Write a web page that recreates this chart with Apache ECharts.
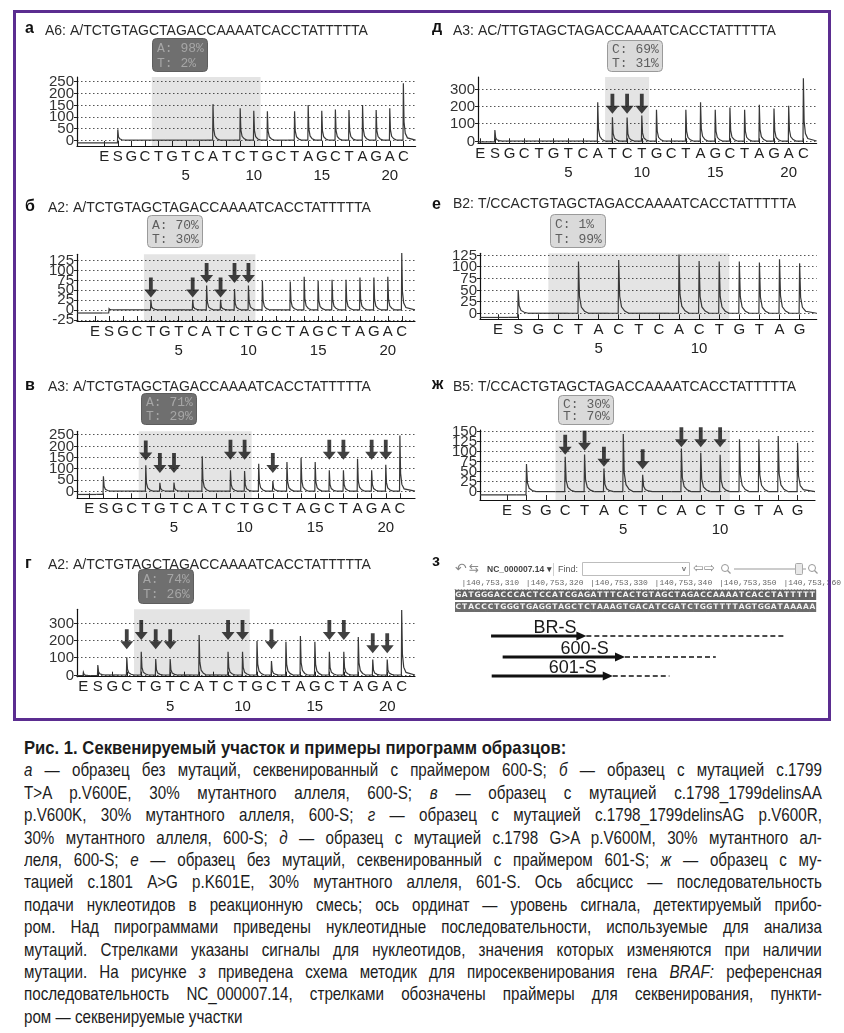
<!DOCTYPE html>
<html><head><meta charset="utf-8">
<script src="https://cdn.jsdelivr.net/npm/echarts@6/dist/echarts.min.js"></script>
<style>
html,body{margin:0;padding:0;background:#fff;}
#chart{position:absolute;left:0;top:0;width:844px;height:730px;}
#cap{position:absolute;left:24px;top:737px;width:798px;font-family:"Liberation Sans",Arial,sans-serif;font-size:18.5px;line-height:22.4px;color:#1c1c1c;}
#cap div{width:973px;transform:scaleX(0.82);transform-origin:0 0;text-align:justify;text-align-last:justify;white-space:nowrap;}
#cap div.l{text-align-last:left;}
#cap div.t{font-weight:bold;text-align-last:left;transform:scaleX(0.9);}
</style></head>
<body>
<div id="chart"></div>
<div id="cap">
<div class="t">Рис. 1. Секвенируемый участок и примеры пирограмм образцов:</div>
<div><i>а</i> — образец без мутаций, секвенированный с праймером 600-S; <i>б</i> — образец с мутацией с.1799</div>
<div>T&gt;A p.V600E, 30% мутантного аллеля, 600-S; <i>в</i> — образец с мутацией c.1798_1799delinsAA</div>
<div>p.V600K, 30% мутантного аллеля, 600-S; <i>г</i> — образец с мутацией c.1798_1799delinsAG p.V600R,</div>
<div>30% мутантного аллеля, 600-S; <i>д</i> — образец с мутацией с.1798 G&gt;A p.V600M, 30% мутантного ал-</div>
<div>леля, 600-S; <i>е</i> — образец без мутаций, секвенированный с праймером 601-S; <i>ж</i> — образец с му-</div>
<div>тацией с.1801 A&gt;G p.K601E, 30% мутантного аллеля, 601-S. Ось абсцисс — последовательность</div>
<div>подачи нуклеотидов в реакционную смесь; ось ординат — уровень сигнала, детектируемый прибо-</div>
<div>ром. Над пирограммами приведены нуклеотидные последовательности, используемые для анализа</div>
<div>мутаций. Стрелками указаны сигналы для нуклеотидов, значения которых изменяются при наличии</div>
<div>мутации. На рисунке <i>з</i> приведена схема методик для пиросеквенирования гена <i>BRAF:</i> референсная</div>
<div>последовательность NC_000007.14, стрелками обозначены праймеры для секвенирования, пункти-</div>
<div class="l">ром — секвенируемые участки</div>
</div>
<script>
// ---------------- DATA ----------------
const dispensation600 = ['E','S','G','C','T','G','T','C','A','T','C','T','G','C','T','A','G','C','T','A','G','A','C'];
const dispensation601 = ['E','S','G','C','T','A','C','T','C','A','C','T','G','T','A','G'];
const positionNumbers600 = [5, 10, 15, 20];
const positionNumbers601 = [5, 10];

// peak heights per dispensation (E, S, 1, 2, ...)
const peaksA = [0, 46, 0, 0, 0, 0, 0, 0, 154, 0, 136, 126, 124, 0, 124, 150, 126, 131, 129, 150, 129, 136, 243];
const peaksD = [0, 64, 0, 0, 0, 0, 0, 0, 224, 137, 135, 147, 180, 0, 180, 224, 180, 193, 180, 209, 188, 203, 362];
const peaksB = [0, 3, 0, 0, 25, 0, 0, 25, 61, 25, 52, 61, 73, 0, 71, 83, 72, 75, 75, 81, 81, 83, 142];
const peaksE = [0, 50, 0, 0, 111, 0, 114, 0, 0, 126, 112, 111, 111, 109, 116, 107];
const peaksV = [0, 66, 0, 0, 114, 37, 38, 0, 154, 0, 92, 89, 121, 45, 129, 148, 129, 92, 92, 143, 92, 117, 246];
const peaksZh = [0, 69, 0, 87, 93, 58, 144, 42, 0, 108, 97, 92, 131, 131, 139, 122];
const peaksG = [15, 58, 0, 103, 135, 93, 93, 0, 232, 0, 135, 135, 197, 81, 193, 226, 193, 135, 135, 220, 90, 90, 377];

// signal level before the first dispensation
const preSignal = { a: -12, d: -5, b: -8, e: -9, v: -15, zh: -8, g: -3 };

// highlighted (analysed) dispensation ranges
const shadeA = [2.5, 10.5], shadeD = [7.5, 10.5], shadeB = [2.5, 10.5], shadeE = [1.5, 10.5];
const shadeV = [2.5, 10.5], shadeZh = [1.5, 10.5], shadeG = [2.5, 10.5];

// arrows: dispensation and signal level of the arrow tip
const arrowPosD = [8, 9, 10], arrowTipD = [157, 157, 157];
const arrowPosB = [3, 6, 7, 8, 9, 10], arrowTipB = [31, 31, 67, 31, 67, 67];
const arrowPosV = [3, 4, 5, 9, 10, 12, 16, 17, 19, 20], arrowTipV = [136, 80, 80, 139, 139, 80, 139, 139, 139, 139];
const arrowPosZh = [2, 3, 4, 6, 8, 9, 10], arrowTipZh = [92, 102, 62, 56, 111, 111, 111];
const arrowPosG = [2, 3, 4, 5, 9, 10, 12, 16, 17, 19, 20], arrowTipG = [149, 203, 149, 149, 203, 203, 149, 203, 203, 126, 126];

// y tick values
const yTicksA = [0, 50, 100, 150, 200, 250];
const yTicksD = [0, 100, 200, 300];
const yTicksB = [-25, 0, 25, 50, 75, 100, 125];
const yTicksE = [0, 25, 50, 75, 100, 125];
const yTicksV = [0, 50, 100, 150, 200, 250];
const yTicksZh = [0, 25, 50, 75, 100, 125, 150];
const yTicksG = [0, 100, 200, 300];

// sequences and allele frequencies
const titleA = 'A6: A/TCTGTAGCTAGACCAAAATCACCTATTTTTA';
const titleD = 'A3: AC/TTGTAGCTAGACCAAAATCACCTATTTTTA';
const titleB = 'A2: A/TCTGTAGCTAGACCAAAATCACCTATTTTTA';
const titleE = 'B2: T/CCACTGTAGCTAGACCAAAATCACCTATTTTTA';
const titleV = 'A3: A/TCTGTAGCTAGACCAAAATCACCTATTTTTA';
const titleZh = 'B5: T/CCACTGTAGCTAGACCAAAATCACCTATTTTTA';
const titleG = 'A2: A/TCTGTAGCTAGACCAAAATCACCTATTTTTA';
const alleleA = ['A: 98%', 'T: 2%'];
const alleleD = ['C: 69%', 'T: 31%'];
const alleleB = ['A: 70%', 'T: 30%'];
const alleleE = ['C: 1%', 'T: 99%'];
const alleleV = ['A: 71%', 'T: 29%'];
const alleleZh = ['C: 30%', 'T: 70%'];
const alleleG = ['A: 74%', 'T: 26%'];

// panel з: reference sequence and primers
const refSeqForward = 'GATGGGACCCACTCCATCGAGATTTCACTGTAGCTAGACCAAAATCACCTATTTTT';
const refSeqReverse = 'CTACCCTGGGTGAGGTAGCTCTAAAGTGACATCGATCTGGTTTTAGTGGATAAAAA';
const refSeqStart = 309;             // 140,753,309 (last three digits)
const rulerTicks = [310, 320, 330, 340, 350, 360];
const primerNames = ['BR-S', '600-S', '601-S'];
const primerStart = [314.6, 316.4, 314.7];
const primerEnd = [329.4, 335.4, 333.5];
const readEnd = [360.4, 349.5, 342.3];

// ---------------- LAYOUT ----------------
const FONT = '"Liberation Sans", Arial, sans-serif';
const PANELS = [
  { lab:'а', title:titleA, letters:dispensation600, nums:positionNumbers600, numShift:0, peaks:peaksA, pre:preSignal.a, shade:shadeA, aPos:null, aTip:null, box:alleleA, dark:true, yTicks:yTicksA,
    grid:[77, 77, 338.6, 69], x:[-3, 21.9], y:[-25, 270], labXY:[25, 29], titXY:[45, 31], boxR:[152, 38, 55, 33] },
  { lab:'д', title:titleD, letters:dispensation600, nums:positionNumbers600, numShift:0, peaks:peaksD, pre:preSignal.d, shade:shadeD, aPos:arrowPosD, aTip:arrowTipD, box:alleleD, dark:false, yTicks:yTicksD,
    grid:[478, 77, 338.6, 66.3], x:[-1.15, 21.9], y:[-13, 369], labXY:[432, 28], titXY:[453, 31], boxR:[607, 40, 55, 31] },
  { lab:'б', title:titleB, letters:dispensation600, nums:positionNumbers600, numShift:0, peaks:peaksB, pre:preSignal.b, shade:shadeB, aPos:arrowPosB, aTip:arrowTipB, box:alleleB, dark:false, yTicks:yTicksB,
    grid:[77, 254.3, 338, 66.7], x:[-2.3, 21.95], y:[-28, 139], labXY:[25, 207], titXY:[48, 208], boxR:[147, 215, 55, 32] },
  { lab:'е', title:titleE, letters:dispensation601, nums:positionNumbers601, numShift:-1, peaks:peaksE, pre:preSignal.e, shade:shadeE, aPos:null, aTip:null, box:alleleE, dark:false, yTicks:yTicksE,
    grid:[480, 253.3, 336.7, 66], x:[-1.9, 14.85], y:[-13, 128.6], labXY:[432, 205], titXY:[453, 204], boxR:[550, 214, 55, 33] },
  { lab:'в', title:titleV, letters:dispensation600, nums:positionNumbers600, numShift:0, peaks:peaksV, pre:preSignal.v, shade:shadeV, aPos:arrowPosV, aTip:arrowTipV, box:alleleV, dark:true, yTicks:yTicksV,
    grid:[77, 431.3, 338, 67], x:[-1.87, 22.07], y:[-32, 265], labXY:[25, 386], titXY:[48, 387], boxR:[141, 393, 55, 31] },
  { lab:'ж', title:titleZh, letters:dispensation601, nums:positionNumbers601, numShift:0, peaks:peaksZh, pre:preSignal.zh, shade:shadeZh, aPos:arrowPosZh, aTip:arrowTipZh, box:alleleZh, dark:false, yTicks:yTicksZh,
    grid:[480, 430, 335, 70], x:[-2.4, 14.9], y:[-21, 154], labXY:[432, 385], titXY:[453, 387], boxR:[558, 395, 55, 29] },
  { lab:'г', title:titleG, letters:dispensation600, nums:positionNumbers600, numShift:0, peaks:peaksG, pre:preSignal.g, shade:shadeG, aPos:arrowPosG, aTip:arrowTipG, box:alleleG, dark:true, yTicks:yTicksG,
    grid:[77, 609.3, 338, 67.4], x:[-1.44, 21.92], y:[-10, 381], labXY:[25, 564], titXY:[48, 565], boxR:[138, 569, 55, 34] }
];
const ARROW = 'path://M4.6,0 L8.4,0 L8.4,12 L13,12 L6.5,20 L0,12 L4.6,12 Z';

function txt(x, y, text, font, fill, align, va, z) {
  return { type:'text', x:x, y:y, z:z || 10, silent:true,
    style:{ text:text, font:font, fill:fill, align:align || 'left', verticalAlign:va || 'middle' } };
}

const grids = [], xAxes = [], yAxes = [], series = [], graphics = [];

// frame
graphics.push({ type:'rect', z:1, silent:true, shape:{ x:14.5, y:11.5, width:815, height:708 },
  style:{ fill:'transparent', stroke:'#5b2d90', lineWidth:3 } });

PANELS.forEach(function (p, gi) {
  grids.push({ left:p.grid[0], top:p.grid[1], width:p.grid[2], height:p.grid[3] });
  const pos = p.letters.map(function (_, k) { return k - 1; });
  xAxes.push({
    type:'value', gridIndex:gi, min:p.x[0], max:p.x[1],
    axisLine:{ show:true, onZero:false, lineStyle:{ color:'#111', width:1.2 } },
    axisTick:{ show:true, inside:true, length:5, customValues:pos, lineStyle:{ color:'#222' } },
    axisLabel:{ customValues:pos, margin:3, showMinLabel:true, showMaxLabel:true, hideOverlap:false,
      formatter:function (v) {
        const k = Math.round(v);
        const n = p.nums.indexOf(k - p.numShift) >= 0 ? String(k - p.numShift) : ' ';
        return '{l|' + p.letters[k + 1] + '}\n{n|' + n + '}';
      },
      rich:{ l:{ fontSize:15, lineHeight:15, color:'#222', fontFamily:FONT },
             n:{ fontSize:15, lineHeight:24, color:'#222', fontFamily:FONT } } },
    splitLine:{ show:false }
  });
  yAxes.push({
    type:'value', gridIndex:gi, min:p.y[0], max:p.y[1],
    axisLine:{ show:true, onZero:false, lineStyle:{ color:'#111', width:1.2 } },
    axisTick:{ show:true, length:3, customValues:p.yTicks, lineStyle:{ color:'#222' } },
    axisLabel:{ show:false, customValues:p.yTicks },
    splitLine:{ show:true, lineStyle:{ type:[1.5, 2.5], color:'#555', width:1 } }
  });

  // y tick labels (drawn from the axis scale so that overlapping labels all stay visible, as in the original)
  series.push({
    type:'custom', xAxisIndex:gi, yAxisIndex:gi, silent:true, z:6, clip:false,
    data:p.yTicks.map(function (v) { return [p.x[0], v]; }), encode:{ x:0, y:1 },
    renderItem:function (params, api) {
      const c = api.coord([api.value(0), api.value(1)]);
      return { type:'text', style:{ text:String(api.value(1)), x:c[0] - 3, y:c[1] + 0.5, align:'right', verticalAlign:'middle',
        font:'15px ' + FONT, fill:'#333' } };
    }
  });

  // shaded analysed region
  series.push({
    type:'custom', xAxisIndex:gi, yAxisIndex:gi, silent:true, z:1,
    data:[[p.shade[0], p.shade[1]]], encode:{ x:[0, 1] },
    renderItem:function (params, api) {
      const cs = params.coordSys;
      const a = api.coord([api.value(0), 0])[0], b = api.coord([api.value(1), 0])[0];
      return { type:'rect', shape:{ x:a, y:cs.y, width:b - a, height:cs.height },
        style:{ fill:'rgba(0,0,0,0.105)' } };
    }
  });

  // pyrogram trace: one peak per dispensation
  const firstPos = pos[0], lastPos = pos[pos.length - 1];
  series.push({
    type:'custom', xAxisIndex:gi, yAxisIndex:gi, silent:true, z:3,
    data:p.peaks.map(function (h, k) { return [k - 1, h]; }), encode:{ x:0, y:1 },
    renderItem:function (params, api) {
      const x = api.value(0), h = api.value(1);
      const b0 = x <= 0 ? p.pre : 0, b1 = x < 0 ? p.pre : 0;
      const left = x === firstPos ? p.x[0] : x - 0.5;
      const right = x === lastPos ? p.x[1] : x + 0.5;
      const pts = [[left, b0], [x - 0.025, b0]];
      if (h > 0) {
        const d = h - b1;
        pts.push([x, h], [x + 0.05, b1 + d * 0.32], [x + 0.14, b1 + d * 0.12], [x + 0.3, b1 + d * 0.04]);
      } else { pts.push([x, b1]); }
      pts.push([right, b1]);
      return { type:'polyline', shape:{ points:pts.map(function (q) { return api.coord(q); }) },
        style:{ stroke:'#383838', lineWidth:1.2, fill:null } };
    }
  });

  if (p.aPos) {
    series.push({
      type:'scatter', xAxisIndex:gi, yAxisIndex:gi, silent:true, z:5,
      data:p.aPos.map(function (x, k) { return [x, p.aTip[k]]; }),
      symbol:ARROW, symbolSize:[13, 20], symbolOffset:[0, '-50%'], symbolKeepAspect:false,
      itemStyle:{ color:'#111' }
    });
  }

  graphics.push(txt(p.labXY[0], p.labXY[1], p.lab, 'bold 16px ' + FONT, '#111'));
  graphics.push(txt(p.titXY[0], p.titXY[1], p.title, '14px ' + FONT, '#2a2a2a'));
  const r = p.boxR;
  graphics.push({ type:'rect', z:10, silent:true, shape:{ x:r[0] + 0.5, y:r[1] + 0.5, width:r[2], height:r[3], r:4 },
    style:{ fill:p.dark ? '#6f6f6f' : '#dadada', stroke:p.dark ? '#5e5e5e' : '#9a9a9a', lineWidth:1 } });
  const tf = '13px "Liberation Mono", "DejaVu Sans Mono", monospace';
  const tc = p.dark ? '#a6a6a6' : '#5e5e5e';
  graphics.push(txt(r[0] + 5, r[1] + r[3] * 0.32, p.box[0], tf, tc, 'left', 'middle', 11));
  graphics.push(txt(r[0] + 5, r[1] + r[3] * 0.76, p.box[1], tf, tc, 'left', 'middle', 11));
});

// ---------------- panel з ----------------
const zi = PANELS.length;
const Z_ROWS = [1, 13];          // pixel offsets of the two sequence rows inside the grid
const Z_PRIMER_Y = [47, 68, 87]; // pixel offsets of primer lines inside the grid
grids.push({ left:455, top:589, width:365, height:91 });
xAxes.push({
  type:'value', gridIndex:zi, min:refSeqStart, max:refSeqStart + refSeqForward.length, position:'top',
  axisLine:{ show:true, onZero:false, lineStyle:{ color:'#9a9a9a', type:[1, 2], width:1 } },
  axisTick:{ show:false, customValues:rulerTicks },
  axisLabel:{ customValues:rulerTicks, margin:2, align:'left', fontSize:8, color:'#666',
    showMinLabel:true, showMaxLabel:true,
    fontFamily:'"Liberation Mono", "DejaVu Sans Mono", monospace',
    formatter:function (v) { return '|140,753,' + v; } },
  splitLine:{ show:false }
});
yAxes.push({ type:'value', gridIndex:zi, min:0, max:91, inverse:true, show:false });

const seqData = [];
[refSeqForward, refSeqReverse].forEach(function (s, row) {
  for (let i = 0; i < s.length; i++) seqData.push([refSeqStart + i, row]);
});
series.push({
  type:'custom', xAxisIndex:zi, yAxisIndex:zi, silent:true, z:3, data:seqData, encode:{ x:0 },
  renderItem:function (params, api) {
    const pos = api.value(0), row = api.value(1);
    const x0 = api.coord([pos, 0])[0], x1 = api.coord([pos + 1, 0])[0];
    const y0 = api.coord([0, Z_ROWS[row]])[1];
    const ch = (row === 0 ? refSeqForward : refSeqReverse)[pos - refSeqStart];
    return { type:'group', children:[
      { type:'rect', shape:{ x:x0, y:y0, width:x1 - x0 + 0.6, height:10 }, style:{ fill:row === 0 ? '#626262' : '#6c6c6c' } },
      { type:'text', style:{ text:ch, x:(x0 + x1) / 2, y:y0 + 5.5, align:'center', verticalAlign:'middle',
        fill:'#f4f4f4', font:'bold 7.5px "DejaVu Sans", sans-serif' } }
    ] };
  }
});
series.push({
  type:'custom', xAxisIndex:zi, yAxisIndex:zi, silent:true, z:4,
  data:primerNames.map(function (n, k) { return [primerStart[k], primerEnd[k], readEnd[k], k]; }),
  encode:{ x:[0, 1, 2] },
  renderItem:function (params, api) {
    const k = api.value(3);
    const y = api.coord([0, Z_PRIMER_Y[k]])[1];
    const xs = api.coord([api.value(0), 0])[0], xe = api.coord([api.value(1), 0])[0], xr = api.coord([api.value(2), 0])[0];
    return { type:'group', children:[
      { type:'line', shape:{ x1:xe, y1:y, x2:xr, y2:y }, style:{ stroke:'#111', lineWidth:1.5, lineDash:[5, 3] } },
      { type:'line', shape:{ x1:xs, y1:y, x2:xe - 7, y2:y }, style:{ stroke:'#111', lineWidth:3 } },
      { type:'polygon', shape:{ points:[[xe - 10, y - 4.5], [xe, y], [xe - 10, y + 4.5]] }, style:{ fill:'#111' } },
      { type:'text', style:{ text:primerNames[k], x:xs + (xe - xs) * 0.67, y:y - 8, align:'center', verticalAlign:'middle',
        fill:'#1a1a1a', font:'18px ' + FONT } }
    ] };
  }
});

// toolbar of the genome browser (panel з)
graphics.push(txt(432, 562, 'з', 'bold 16px ' + FONT, '#111'));
graphics.push(txt(455, 569, '↶', '14px "DejaVu Sans"', '#8a8a8a'));
graphics.push(txt(469, 569, '⇆', '12px "DejaVu Sans"', '#8a8a8a'));
graphics.push(txt(487, 569.5, 'NC_000007.14 ▾', 'bold 8.5px ' + FONT, '#444'));
graphics.push({ type:'line', silent:true, shape:{ x1:553.5, y1:563, x2:553.5, y2:576 }, style:{ stroke:'#cfcfcf' } });
graphics.push(txt(558, 569.5, 'Find:', '9px ' + FONT, '#555'));
graphics.push({ type:'rect', silent:true, shape:{ x:582.5, y:562.5, width:107, height:13 }, style:{ fill:'#fff', stroke:'#bdbdbd' } });
graphics.push(txt(684, 569, 'v', 'bold 8px ' + FONT, '#777', 'center'));
graphics.push(txt(693, 569, '⇦⇨', '13px "DejaVu Sans"', '#8a8a8a'));
graphics.push({ type:'circle', silent:true, shape:{ cx:725, cy:568, r:3.5 }, style:{ fill:'transparent', stroke:'#999', lineWidth:1 } });
graphics.push({ type:'line', silent:true, shape:{ x1:727.5, y1:570.5, x2:730.5, y2:573.5 }, style:{ stroke:'#999', lineWidth:1.3 } });
graphics.push({ type:'line', silent:true, shape:{ x1:734, y1:569, x2:806, y2:569 }, style:{ stroke:'#cccccc', lineWidth:2 } });
graphics.push({ type:'rect', silent:true, shape:{ x:795.5, y:563.5, width:7, height:11, r:1 }, style:{ fill:'#e8e8e8', stroke:'#aaa' } });
graphics.push({ type:'circle', silent:true, shape:{ cx:812, cy:568, r:3.5 }, style:{ fill:'transparent', stroke:'#999', lineWidth:1 } });
graphics.push({ type:'line', silent:true, shape:{ x1:814.5, y1:570.5, x2:817.5, y2:573.5 }, style:{ stroke:'#999', lineWidth:1.3 } });

const chart = echarts.init(document.getElementById('chart'), null, { renderer:'canvas' });
chart.setOption({
  animation:false,
  backgroundColor:'#fff',
  grid:grids, xAxis:xAxes, yAxis:yAxes, series:series, graphic:graphics
});
</script>
</body></html>
